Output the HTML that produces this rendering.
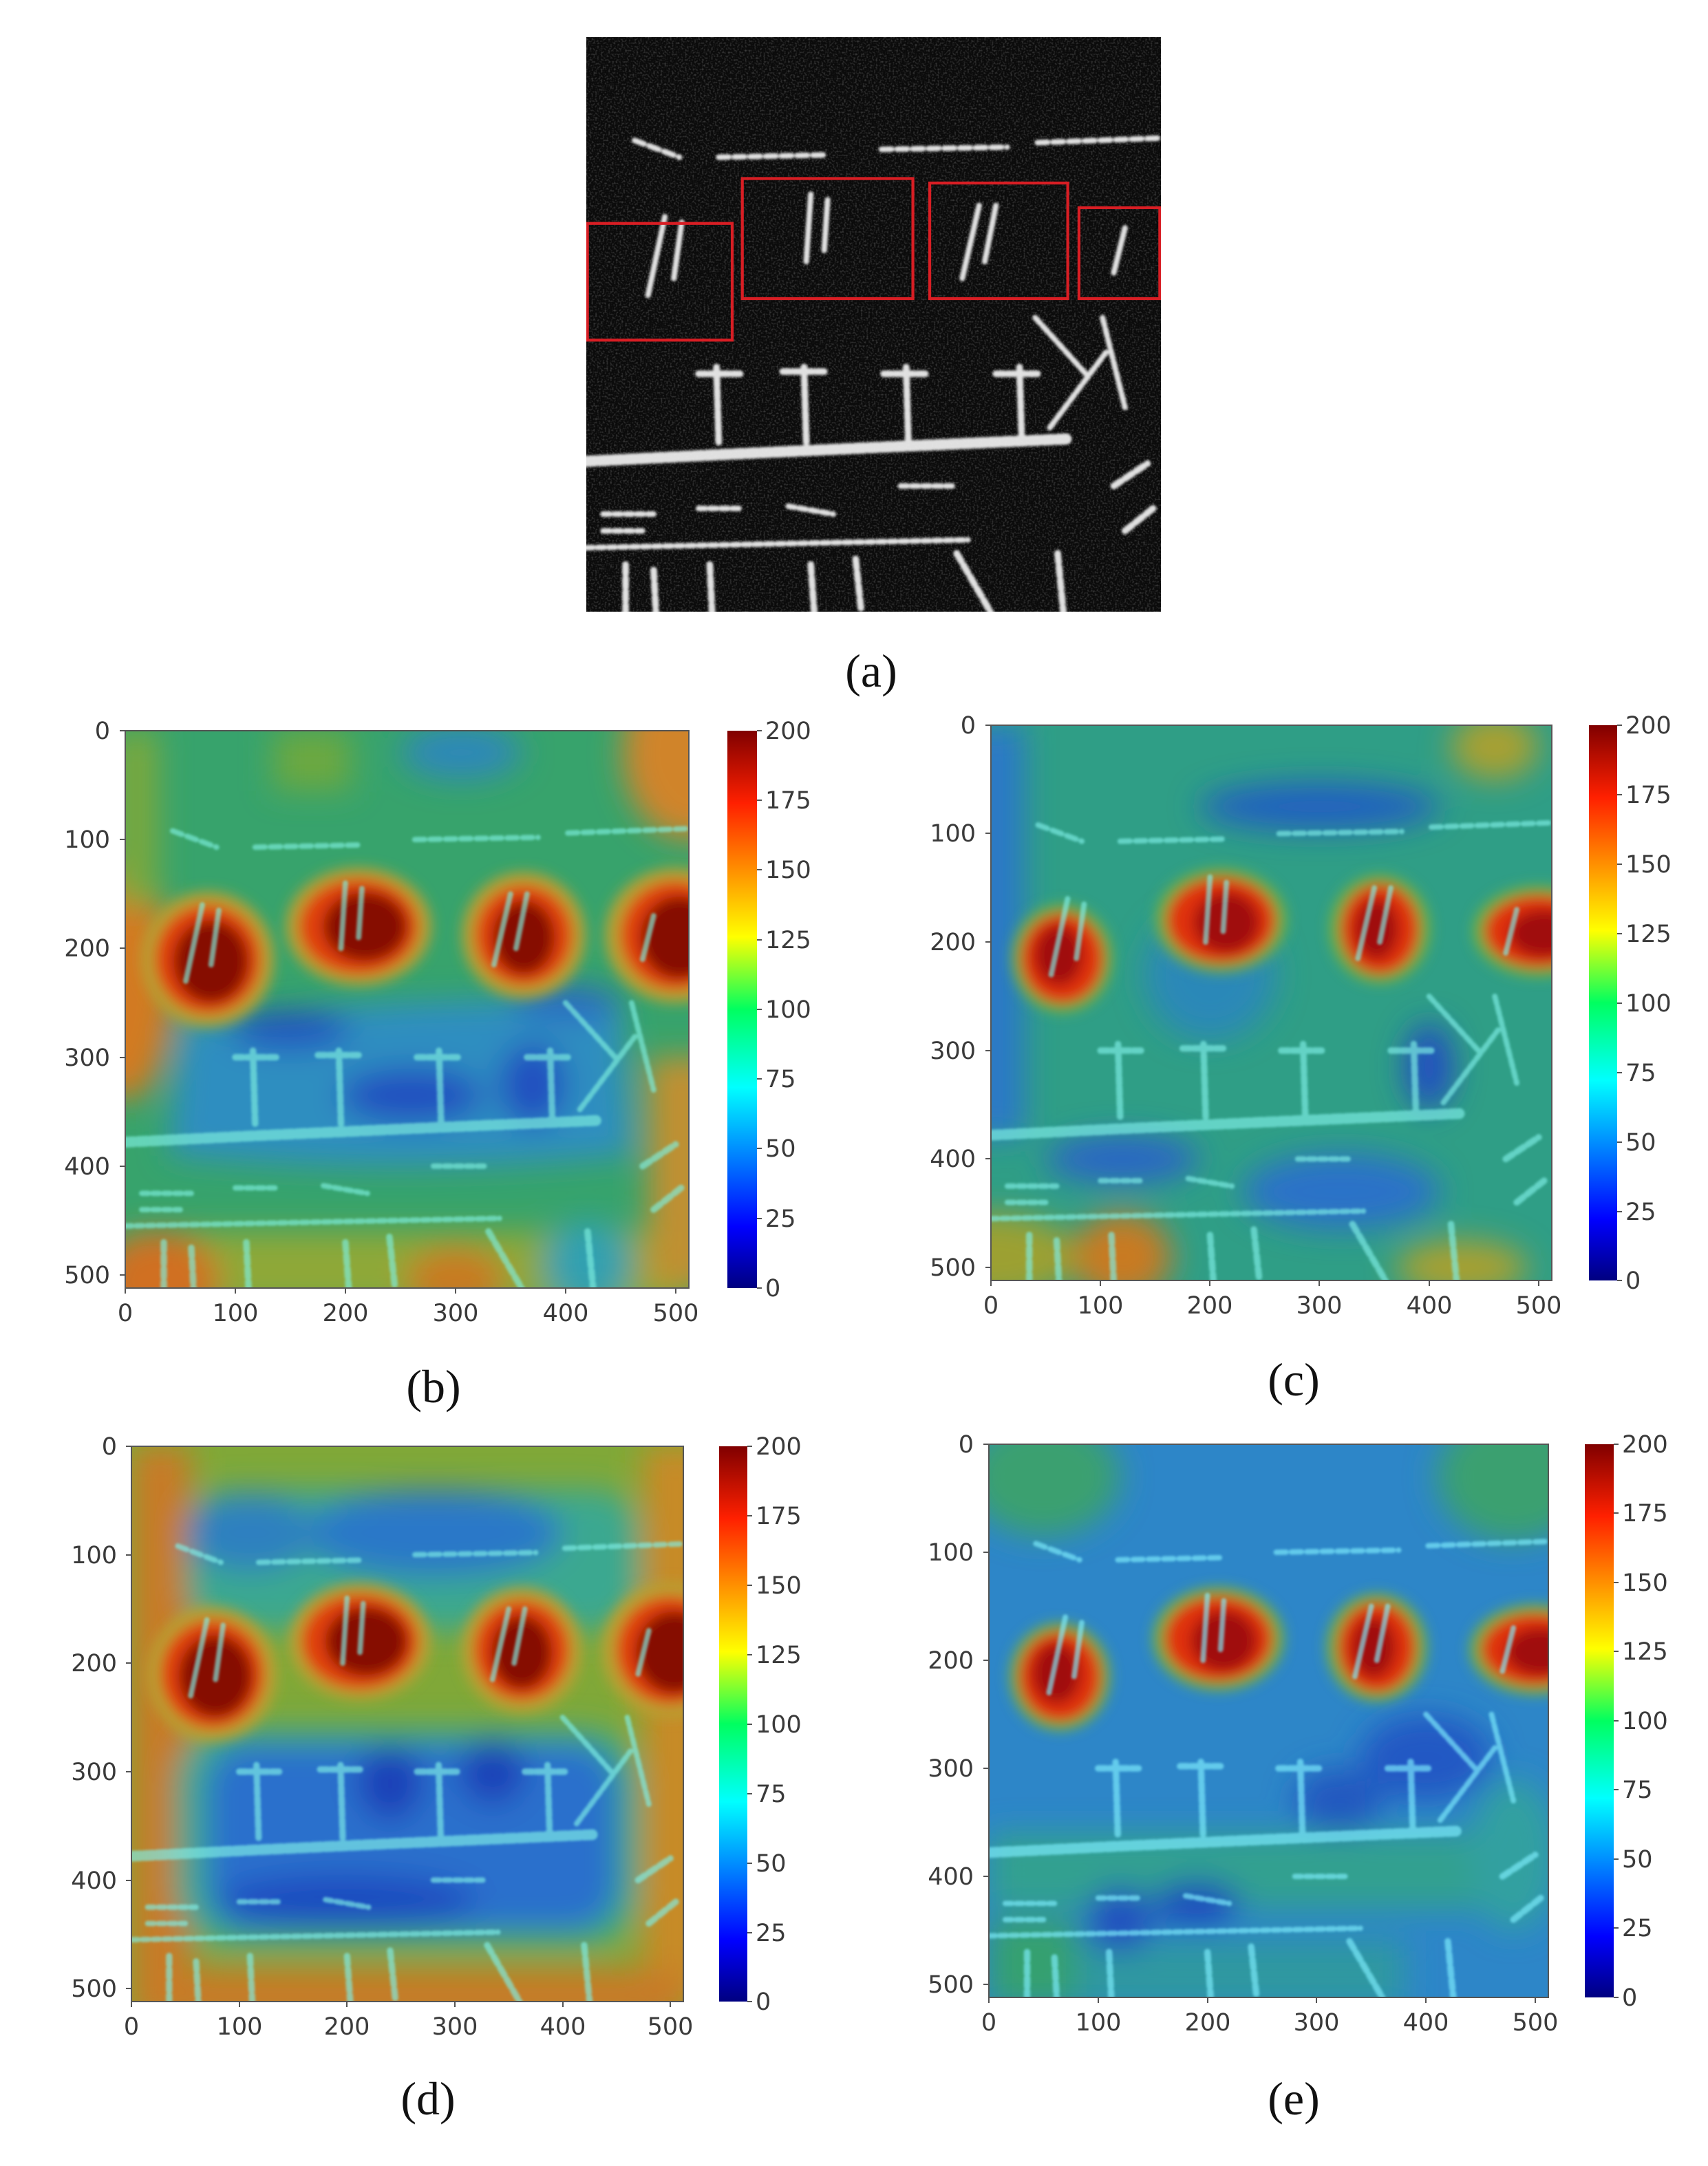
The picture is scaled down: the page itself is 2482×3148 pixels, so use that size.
<!DOCTYPE html>
<html><head><meta charset="utf-8"><style>
html,body{margin:0;padding:0;background:#fff}
svg{display:block}
.t{font-family:"DejaVu Sans","Liberation Sans",sans-serif;font-size:35px;fill:#3a3a3a}
.c{font-family:"Liberation Serif",serif;font-size:68px;fill:#111}
</style></head><body>
<svg width="2482" height="3148" viewBox="0 0 2482 3148" xmlns="http://www.w3.org/2000/svg">
<defs>
<filter id="b1" x="-20%" y="-20%" width="140%" height="140%"><feGaussianBlur stdDeviation="14"/></filter>
<filter id="b2" x="-20%" y="-20%" width="140%" height="140%"><feGaussianBlur stdDeviation="6"/></filter>
<filter id="b3"><feGaussianBlur stdDeviation="1.2"/></filter>
<filter id="nz" x="0" y="0" width="100%" height="100%"><feTurbulence type="fractalNoise" baseFrequency="0.6" numOctaves="1" seed="3"/><feColorMatrix type="matrix" values="0 0 0 0 1  0 0 0 0 1  0 0 0 0 1  1.6 0 0 0 -0.75"/></filter>
<linearGradient id="jet" x1="0" y1="1" x2="0" y2="0">
<stop offset="0" stop-color="#000080"/><stop offset="0.11" stop-color="#0000ff"/><stop offset="0.36" stop-color="#00ffff"/>
<stop offset="0.5" stop-color="#00ff60"/><stop offset="0.63" stop-color="#ffff00"/><stop offset="0.87" stop-color="#ff2000"/><stop offset="1" stop-color="#800000"/>
</linearGradient>
<g id="st" fill="none" stroke-linecap="round">
<path d="M43 92 L83 107 M118 107 L211 105 M263 100 L375 98 M402 94 L510 90" stroke-width="5" stroke-dasharray="9 5"/>
<path d="M70 160 L55 230 M85 165 L78 215 M200 140 L196 200 M215 145 L212 190 M350 150 L335 215 M365 150 L355 200 M480 170 L470 210" stroke-width="5"/>
<path d="M116 294 L118 362 M194 294 L196 362 M285 294 L287 362 M386 294 L388 360 M100 300 L140 300 M175 298 L215 298 M265 300 L305 300 M365 300 L405 300" stroke-width="6" stroke-dasharray="7 3"/>
<path d="M0 378 L120 372 L250 366 L430 358" stroke-width="10" stroke-dasharray="8 4"/>
<path d="M413 348 L463 281 M400 250 L445 300 M460 250 L480 330" stroke-width="5" stroke-dasharray="7 3"/>
<path d="M15 425 L60 425 M15 440 L50 440 M100 420 L140 420 M180 418 L220 425 M280 400 L330 400 M0 455 L340 448" stroke-width="5" stroke-dasharray="6 4"/>
<path d="M35 470 L35 512 M60 475 L62 512 M110 470 L112 512 M200 470 L203 512 M240 465 L245 512 M330 460 L360 512 M420 460 L425 512 M470 400 L500 380 M480 440 L505 420" stroke-width="6" stroke-dasharray="8 4"/>
</g>
<g id="blobs">
<g filter="url(#b2)">
<ellipse cx="75" cy="210" rx="60" ry="62" fill="#b8a030"/><ellipse cx="75" cy="210" rx="48" ry="50" fill="#e04010"/><ellipse cx="78" cy="212" rx="34" ry="38" fill="#860806"/>
<ellipse cx="212" cy="180" rx="66" ry="54" fill="#b8a030"/><ellipse cx="212" cy="180" rx="54" ry="44" fill="#e04010"/><ellipse cx="218" cy="180" rx="38" ry="32" fill="#860806"/>
<ellipse cx="362" cy="188" rx="56" ry="58" fill="#b8a030"/><ellipse cx="362" cy="188" rx="44" ry="46" fill="#e04010"/><ellipse cx="362" cy="190" rx="28" ry="34" fill="#860806"/>
<ellipse cx="500" cy="188" rx="64" ry="62" fill="#b8a030"/><ellipse cx="500" cy="188" rx="50" ry="50" fill="#e04010"/><ellipse cx="504" cy="190" rx="36" ry="38" fill="#860806"/>
</g></g>
<g id="blobs2">
<g filter="url(#b2)">
<ellipse cx="65" cy="215" rx="46" ry="50" fill="#70b040"/><ellipse cx="65" cy="215" rx="38" ry="42" fill="#e03010"/><ellipse cx="62" cy="212" rx="22" ry="28" fill="#a01008"/>
<ellipse cx="210" cy="180" rx="60" ry="48" fill="#70b040"/><ellipse cx="210" cy="180" rx="50" ry="40" fill="#e03010"/><ellipse cx="215" cy="182" rx="30" ry="28" fill="#a01008"/>
<ellipse cx="355" cy="188" rx="46" ry="50" fill="#70b040"/><ellipse cx="355" cy="188" rx="36" ry="42" fill="#e03010"/><ellipse cx="352" cy="188" rx="20" ry="28" fill="#a01008"/>
<ellipse cx="500" cy="190" rx="60" ry="42" fill="#70b040"/><ellipse cx="500" cy="190" rx="50" ry="34" fill="#e03010"/><ellipse cx="505" cy="192" rx="32" ry="22" fill="#a01008"/>
</g></g>
</defs>

<!-- (a) SAR image -->
<svg x="852" y="54" width="835" height="835" viewBox="0 0 512 512" preserveAspectRatio="none">
<rect width="512" height="512" fill="#0b0b0b"/>
<rect width="512" height="512" filter="url(#nz)" opacity="0.35"/>
<g filter="url(#b3)" stroke="#ececec" opacity="0.95"><use href="#st"/></g>
<g fill="none" stroke="#d81e24" stroke-width="2.6">
<rect x="1" y="166" width="129" height="104"/><rect x="139" y="126" width="152" height="107"/><rect x="306" y="130" width="123" height="103"/><rect x="439" y="152" width="72" height="81"/>
</g>
</svg>
<text class="c" x="1266" y="998" text-anchor="middle">(a)</text>

<!-- (b) -->
<svg x="182" y="1062" width="819" height="810" viewBox="0 0 512 512" preserveAspectRatio="none">
<rect width="512" height="512" fill="#37a36c"/>
<g filter="url(#b1)">
<ellipse cx="0" cy="230" rx="45" ry="110" fill="#d27a22"/>
<rect x="-10" y="0" width="40" height="160" fill="#7aa83e"/>
<ellipse cx="512" cy="20" rx="60" ry="80" fill="#d0842a"/>
<rect x="0" y="460" width="512" height="70" fill="#8ea838"/>
<ellipse cx="30" cy="505" rx="55" ry="45" fill="#d07020"/><ellipse cx="300" cy="505" rx="45" ry="30" fill="#c87a22"/>
<rect x="475" y="300" width="60" height="212" fill="#c09030"/>
<path d="M50 270 Q250 240 450 250 L460 390 Q250 410 40 390 Z" fill="#2f8ec0"/>
<ellipse cx="150" cy="275" rx="55" ry="18" fill="#2055c0"/><ellipse cx="260" cy="335" rx="65" ry="25" fill="#2050c0"/><ellipse cx="370" cy="325" rx="30" ry="38" fill="#2050c0"/>
<ellipse cx="400" cy="250" rx="50" ry="15" fill="#2a68c4"/>
<ellipse cx="305" cy="20" rx="55" ry="25" fill="#2f88b8"/>
<rect x="135" y="0" width="70" height="55" fill="#6ca840"/>
<ellipse cx="420" cy="490" rx="40" ry="40" fill="#30a0b0"/>
</g>
<use href="#blobs"/>
<g filter="url(#b3)" stroke="#7ff0e0" opacity="0.65"><use href="#st"/></g>
</svg>

<!-- (c) -->
<svg x="1440" y="1054" width="815" height="807" viewBox="0 0 512 512" preserveAspectRatio="none">
<rect width="512" height="512" fill="#2f9e86"/>
<g filter="url(#b1)">
<rect x="-20" y="0" width="50" height="380" fill="#2a78c8"/>
<ellipse cx="300" cy="75" rx="110" ry="22" fill="#2060c0"/>
<ellipse cx="120" cy="400" rx="70" ry="22" fill="#2a66c4"/><ellipse cx="320" cy="430" rx="90" ry="35" fill="#2a72c8"/>
<ellipse cx="400" cy="315" rx="22" ry="40" fill="#2050c0"/>
<ellipse cx="200" cy="230" rx="60" ry="60" fill="#2a88b8"/>
<ellipse cx="0" cy="490" rx="80" ry="40" fill="#9ca030"/>
<ellipse cx="120" cy="490" rx="45" ry="40" fill="#c87a24"/>
<ellipse cx="430" cy="500" rx="60" ry="25" fill="#a8a030"/>
<ellipse cx="460" cy="20" rx="40" ry="30" fill="#a8a030"/>
</g>
<use href="#blobs2"/>
<g filter="url(#b3)" stroke="#80f0e8" opacity="0.65"><use href="#st"/></g>
</svg>

<!-- (d) -->
<svg x="191" y="2102" width="802" height="807" viewBox="0 0 512 512" preserveAspectRatio="none">
<rect width="512" height="512" fill="#80a838"/>
<g filter="url(#b1)">
<rect x="0" y="0" width="55" height="512" fill="#c87a26"/>
<rect x="475" y="0" width="60" height="512" fill="#c88a28"/>
<rect x="0" y="482" width="512" height="50" fill="#c87a26"/>
<rect x="50" y="40" width="420" height="130" rx="40" fill="#3aa890"/>
<ellipse cx="280" cy="80" rx="120" ry="40" fill="#2a78c8"/><ellipse cx="110" cy="80" rx="60" ry="35" fill="#2f80c0"/>
<rect x="40" y="260" width="430" height="200" rx="50" fill="#38a890"/>
<rect x="70" y="275" width="380" height="170" rx="40" fill="#2a70cc"/>
<ellipse cx="240" cy="310" rx="30" ry="35" fill="#1a40b8"/><ellipse cx="335" cy="300" rx="30" ry="30" fill="#1a40b8"/>
<ellipse cx="200" cy="420" rx="120" ry="25" fill="#1d4cc0"/>
</g>
<use href="#blobs"/>
<g filter="url(#b3)" stroke="#80f0e8" opacity="0.65"><use href="#st"/></g>
</svg>

<!-- (e) -->
<svg x="1437" y="2099" width="813" height="804" viewBox="0 0 512 512" preserveAspectRatio="none">
<rect width="512" height="512" fill="#2d86c8"/>
<g filter="url(#b1)">
<ellipse cx="50" cy="30" rx="70" ry="55" fill="#3aa070"/><ellipse cx="480" cy="30" rx="70" ry="60" fill="#3aa070"/>
<rect x="0" y="360" width="512" height="70" fill="#30a090"/>
<rect x="0" y="440" width="80" height="80" fill="#34a070"/>
<rect x="80" y="460" width="300" height="60" fill="#2f98a0"/>
<ellipse cx="190" cy="425" rx="40" ry="20" fill="#1e48bc"/><ellipse cx="120" cy="440" rx="30" ry="30" fill="#2050c0"/>
<ellipse cx="400" cy="290" rx="60" ry="40" fill="#2158c4"/><ellipse cx="320" cy="330" rx="40" ry="30" fill="#2058c0"/>
<ellipse cx="480" cy="380" rx="40" ry="70" fill="#30a0a0"/>
</g>
<use href="#blobs2"/>
<g filter="url(#b3)" stroke="#80f0ff" opacity="0.65"><use href="#st"/></g>
</svg>

<!-- axes frames -->
<g fill="none" stroke="#555" stroke-width="2">
<rect x="182" y="1062" width="819" height="810"/><rect x="1440" y="1054" width="815" height="807"/>
<rect x="191" y="2102" width="802" height="807"/><rect x="1437" y="2099" width="813" height="804"/>
</g>
<!-- colorbars -->
<rect x="1057" y="1062" width="43" height="810" fill="url(#jet)"/>
<rect x="2309" y="1054" width="41" height="807" fill="url(#jet)"/>
<rect x="1045" y="2102" width="41" height="807" fill="url(#jet)"/>
<rect x="2303" y="2099" width="42" height="804" fill="url(#jet)"/>

<g class="t">
<g text-anchor="end">
<text x="160" y="1074">0</text><text x="160" y="1232">100</text><text x="160" y="1390">200</text><text x="160" y="1549">300</text><text x="160" y="1707">400</text><text x="160" y="1865">500</text>
</g>
<g text-anchor="middle">
<text x="182" y="1920">0</text><text x="342" y="1920">100</text><text x="502" y="1920">200</text><text x="662" y="1920">300</text><text x="822" y="1920">400</text><text x="982" y="1920">500</text>
</g>
<g>
<text x="1112" y="1074">200</text><text x="1112" y="1175">175</text><text x="1112" y="1276">150</text><text x="1112" y="1378">125</text><text x="1112" y="1479">100</text><text x="1112" y="1580">75</text><text x="1112" y="1681">50</text><text x="1112" y="1783">25</text><text x="1112" y="1884">0</text>
</g>
<g text-anchor="end">
<text x="1418" y="1066">0</text><text x="1418" y="1223">100</text><text x="1418" y="1381">200</text><text x="1418" y="1539">300</text><text x="1418" y="1696">400</text><text x="1418" y="1854">500</text>
</g>
<g text-anchor="middle">
<text x="1440" y="1909">0</text><text x="1599" y="1909">100</text><text x="1758" y="1909">200</text><text x="1917" y="1909">300</text><text x="2077" y="1909">400</text><text x="2236" y="1909">500</text>
</g>
<g>
<text x="2362" y="1066">200</text><text x="2362" y="1167">175</text><text x="2362" y="1268">150</text><text x="2362" y="1369">125</text><text x="2362" y="1470">100</text><text x="2362" y="1571">75</text><text x="2362" y="1672">50</text><text x="2362" y="1773">25</text><text x="2362" y="1873">0</text>
</g>
<g text-anchor="end">
<text x="170" y="2114">0</text><text x="170" y="2272">100</text><text x="170" y="2429">200</text><text x="170" y="2587">300</text><text x="170" y="2745">400</text><text x="170" y="2902">500</text>
</g>
<g text-anchor="middle">
<text x="191" y="2957">0</text><text x="348" y="2957">100</text><text x="504" y="2957">200</text><text x="661" y="2957">300</text><text x="818" y="2957">400</text><text x="974" y="2957">500</text>
</g>
<g>
<text x="1098" y="2114">200</text><text x="1098" y="2215">175</text><text x="1098" y="2316">150</text><text x="1098" y="2417">125</text><text x="1098" y="2518">100</text><text x="1098" y="2619">75</text><text x="1098" y="2720">50</text><text x="1098" y="2821">25</text><text x="1098" y="2921">0</text>
</g>
<g text-anchor="end">
<text x="1415" y="2111">0</text><text x="1415" y="2268">100</text><text x="1415" y="2425">200</text><text x="1415" y="2582">300</text><text x="1415" y="2739">400</text><text x="1415" y="2896">500</text>
</g>
<g text-anchor="middle">
<text x="1437" y="2951">0</text><text x="1596" y="2951">100</text><text x="1755" y="2951">200</text><text x="1913" y="2951">300</text><text x="2072" y="2951">400</text><text x="2231" y="2951">500</text>
</g>
<g>
<text x="2357" y="2111">200</text><text x="2357" y="2211">175</text><text x="2357" y="2312">150</text><text x="2357" y="2412">125</text><text x="2357" y="2513">100</text><text x="2357" y="2613">75</text><text x="2357" y="2714">50</text><text x="2357" y="2814">25</text><text x="2357" y="2915">0</text>
</g>
</g>
<g stroke="#555" stroke-width="2">
<path d="M174 1062h8M174 1220h8M174 1378h8M174 1537h8M174 1695h8M174 1853h8 M182 1872v8M342 1872v8M502 1872v8M662 1872v8M822 1872v8M982 1872v8 M1100 1062h7M1100 1163h7M1100 1264h7M1100 1366h7M1100 1467h7M1100 1568h7M1100 1669h7M1100 1771h7M1100 1872h7"/>
<path d="M1432 1054h8M1432 1211h8M1432 1369h8M1432 1527h8M1432 1684h8M1432 1842h8 M1440 1861v8M1599 1861v8M1758 1861v8M1917 1861v8M2077 1861v8M2236 1861v8 M2350 1054h7M2350 1155h7M2350 1256h7M2350 1357h7M2350 1458h7M2350 1559h7M2350 1660h7M2350 1761h7M2350 1861h7"/>
<path d="M183 2102h8M183 2260h8M183 2417h8M183 2575h8M183 2733h8M183 2890h8 M191 2909v8M348 2909v8M504 2909v8M661 2909v8M818 2909v8M974 2909v8 M1086 2102h7M1086 2203h7M1086 2304h7M1086 2405h7M1086 2506h7M1086 2607h7M1086 2708h7M1086 2809h7M1086 2909h7"/>
<path d="M1429 2099h8M1429 2256h8M1429 2413h8M1429 2570h8M1429 2727h8M1429 2884h8 M1437 2903v8M1596 2903v8M1755 2903v8M1913 2903v8M2072 2903v8M2231 2903v8 M2345 2099h7M2345 2199h7M2345 2300h7M2345 2400h7M2345 2501h7M2345 2601h7M2345 2702h7M2345 2802h7M2345 2903h7"/>
</g>

<text class="c" x="630" y="2038" text-anchor="middle">(b)</text>
<text class="c" x="1880" y="2028" text-anchor="middle">(c)</text>
<text class="c" x="622" y="3073" text-anchor="middle">(d)</text>
<text class="c" x="1880" y="3073" text-anchor="middle">(e)</text>
</svg>
</body></html>
